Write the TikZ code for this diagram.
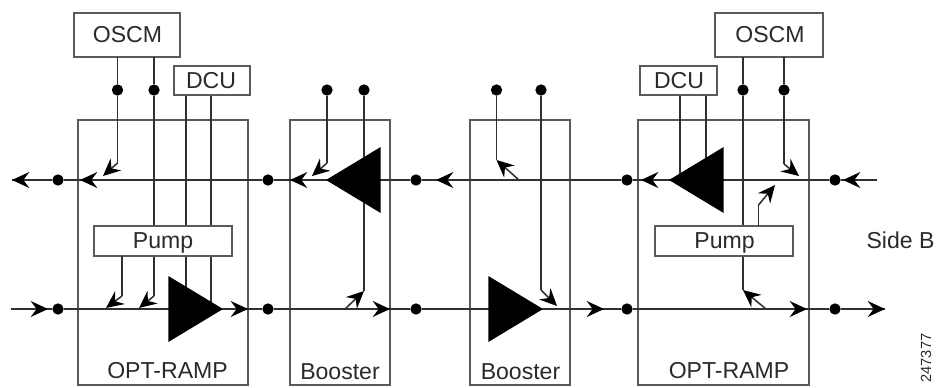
\documentclass[tikz,border=0pt]{standalone}
\usepackage{fontspec}
\setmainfont{Liberation Sans}
\usetikzlibrary{shapes.geometric,arrows.meta}
\definecolor{boxgray}{HTML}{5A5A5A}
\definecolor{wire}{HTML}{303030}
\definecolor{ink}{HTML}{2A2A2A}
\newcommand{\lbl}{\fontsize{17.3}{19}\selectfont}
\tikzset{
  x=0.75pt,y=-0.75pt,
  boxline/.style={draw=boxgray,line width=1.2pt,rectangle,inner sep=0pt,outer sep=0pt},
  frameb/.style={boxline},
  smallb/.style={boxline,fill=white},
  txt/.style={inner sep=0pt,text=ink,font=\lbl,anchor=base},
  wireline/.style={draw=wire,line width=1.15pt},
  dot/.style={circle,fill=black,inner sep=0pt,outer sep=0pt,minimum size=8.5pt},
  tip/.style={draw=wire,line width=1.15pt,-{Stealth[length=13pt,width=12pt,inset=4.5pt,color=black]}},
  ampl/.style={isosceles triangle,isosceles triangle stretches,fill=black,inner sep=0pt,outer sep=0pt,
     minimum width=49.5pt,minimum height=41pt,anchor=apex},
}
\begin{document}
\begin{tikzpicture}
\useasboundingbox (0,0) rectangle (937,387);
% frames
\node[frameb,minimum width=127.5pt,minimum height=198.75pt] (ramp1) at (163,252.5) {};
\node[frameb,minimum width=75pt,minimum height=198.75pt] (boost1) at (340,252.5) {};
\node[frameb,minimum width=75pt,minimum height=198.75pt] (boost2) at (520,252.5) {};
\node[frameb,minimum width=128.25pt,minimum height=198.75pt] (ramp2) at (723.5,252.5) {};
% main-line points
\coordinate (tr) at (877,180); \coordinate (tl) at (12,180);
\coordinate (bl) at (11,309); \coordinate (br) at (885,309);
\node[dot] (t1) at (58,180) {}; \node[dot] (t2) at (268,180) {}; \node[dot] (t3) at (416,180) {};
\node[dot] (t4) at (627,180) {}; \node[dot] (t5) at (835,180) {};
\node[dot] (b1) at (58,309) {}; \node[dot] (b2) at (268,309) {}; \node[dot] (b3) at (416,309) {};
\node[dot] (b4) at (627,309) {}; \node[dot] (b5) at (835,309) {};
\draw[wireline] (tr) -- (t5) -- (t4) -- (t3) -- (t2) -- (t1) -- (tl);
\draw[wireline] (bl) -- (b1) -- (b2) -- (b3) -- (b4) -- (b5) -- (br);
% direction heads on main lines
\foreach \n/\a/\b in {1/29/12,2/97/80,3/307/290,4/453/436,5/658/641,6/860/843}
  {\coordinate (hta\n) at (\a,180); \coordinate (htb\n) at (\b,180); \draw[tip] (hta\n) -- (htb\n);}
\foreach \n/\a/\b in {1/31/48,2/231/248,3/373/390,4/587/604,5/790/807,6/868/885}
  {\coordinate (hba\n) at (\a,309); \coordinate (hbb\n) at (\b,309); \draw[tip] (hba\n) -- (hbb\n);}
% top dots
\node[dot] (u1) at (117.5,90) {}; \node[dot] (u2) at (154,90) {};
\node[dot] (u3) at (327,90) {}; \node[dot] (u4) at (364,90) {};
\node[dot] (u5) at (496.5,90) {}; \node[dot] (u6) at (541,90) {};
\node[dot] (u7) at (743,90) {}; \node[dot] (u8) at (784,90) {};
% bend points
\coordinate (c1) at (117.5,163); \coordinate (e1) at (103,176);
\coordinate (c3) at (327,163);   \coordinate (e3) at (312,176);
\coordinate (c5) at (496.5,160); \coordinate (s5) at (519,180);
\coordinate (c4) at (364,291);   \coordinate (s4) at (345,309);
\coordinate (c6) at (541,290);   \coordinate (e6) at (557,306);
\coordinate (c7) at (743,290);   \coordinate (s7) at (766,309);
\coordinate (c8) at (784,164);   \coordinate (e8) at (799,176);
\coordinate (p1) at (122,296);   \coordinate (q1) at (106,308);
\coordinate (p2) at (154,296);   \coordinate (q2) at (139,308);
\coordinate (v1) at (758.5,205); \coordinate (w1) at (775,185);
\coordinate (dl1) at (186,309);  \coordinate (dl2) at (211,309);
\coordinate (dr1) at (680,180);  \coordinate (dr2) at (706,180);
% vertical wires (drawn under the small boxes)
\draw[wireline] (u1) -- (c1); \draw[tip] (c1) -- (e1);
\draw[wireline] (u3) -- (c3); \draw[tip] (c3) -- (e3);
\draw[wireline] (u5) -- (c5); \draw[tip] (s5) -- (c5);
\draw[wireline] (u4) -- (c4); \draw[tip] (s4) -- (c4);
\draw[wireline] (u6) -- (c6); \draw[tip] (c6) -- (e6);
\draw[wireline] (u7) -- (c7); \draw[tip] (s7) -- (c7);
\draw[wireline] (u8) -- (c8); \draw[tip] (c8) -- (e8);
\draw[wireline] (u2) -- (p2); \draw[tip] (p2) -- (q2);
\draw[wireline] (dl1 |- 186,95) -- (dl1);
\draw[wireline] (dl2 |- 211,95) -- (dl2);
\draw[wireline] (dr1 |- 680,95) -- (dr1);
\draw[wireline] (dr2 |- 706,95) -- (dr2);
% small boxes
\node[smallb,minimum width=79.5pt,minimum height=33pt] (oscm1) at (127,35) {};
\node[smallb,minimum width=81pt,minimum height=33pt] (oscm2) at (769,35) {};
\node[smallb,minimum width=57pt,minimum height=21.75pt] (dcu1) at (212,80.5) {};
\node[smallb,minimum width=57.75pt,minimum height=21.75pt] (dcu2) at (678.5,80.5) {};
\node[smallb,minimum width=103.5pt,minimum height=22.5pt] (pump1) at (163,241) {};
\node[smallb,minimum width=103.5pt,minimum height=22.5pt] (pump2) at (724,241) {};
\draw[wireline] (u1) -- (u1 |- oscm1.south);
\draw[wireline] (u2) -- (u2 |- oscm1.south);
\draw[wireline] (u7) -- (u7 |- oscm2.south);
\draw[wireline] (u8) -- (u8 |- oscm2.south);
\draw[wireline] (p1 |- pump1.south) -- (p1); \draw[tip] (p1) -- (q1);
\draw[wireline] (v1 |- pump2.north) -- (v1); \draw[tip] (v1) -- (w1);
% amplifiers
\node[ampl,shape border rotate=180] (a1) at (326,180) {};
\node[ampl,shape border rotate=180] (a2) at (669,180) {};
\node[ampl] (a3) at (223,309) {};
\node[ampl] (a4) at (543,309) {};
% labels
\node[txt] (t-oscm1) at (127.5,42) {OSCM};
\node[txt] (t-oscm2) at (770,42) {OSCM};
\node[txt] (t-dcu1) at (211,88) {DCU};
\node[txt] (t-dcu2) at (679,88) {DCU};
\node[txt] (t-pump1) at (163,248) {Pump};
\node[txt] (t-pump2) at (724.5,248) {Pump};
\node[txt] (t-r1) at (167.5,378) {OPT-RAMP};
\node[txt] (t-r2) at (729,378) {OPT-RAMP};
\node[txt] (t-b1) at (340,379) {Booster};
\node[txt] (t-b2) at (520.5,379) {Booster};
\node[txt] (t-side) at (900.5,248) {Side B};
\node[inner sep=0pt,text=ink,font=\fontsize{11}{12}\selectfont,rotate=90] (t-id) at (926,358) {247377};
\end{tikzpicture}
\end{document}
